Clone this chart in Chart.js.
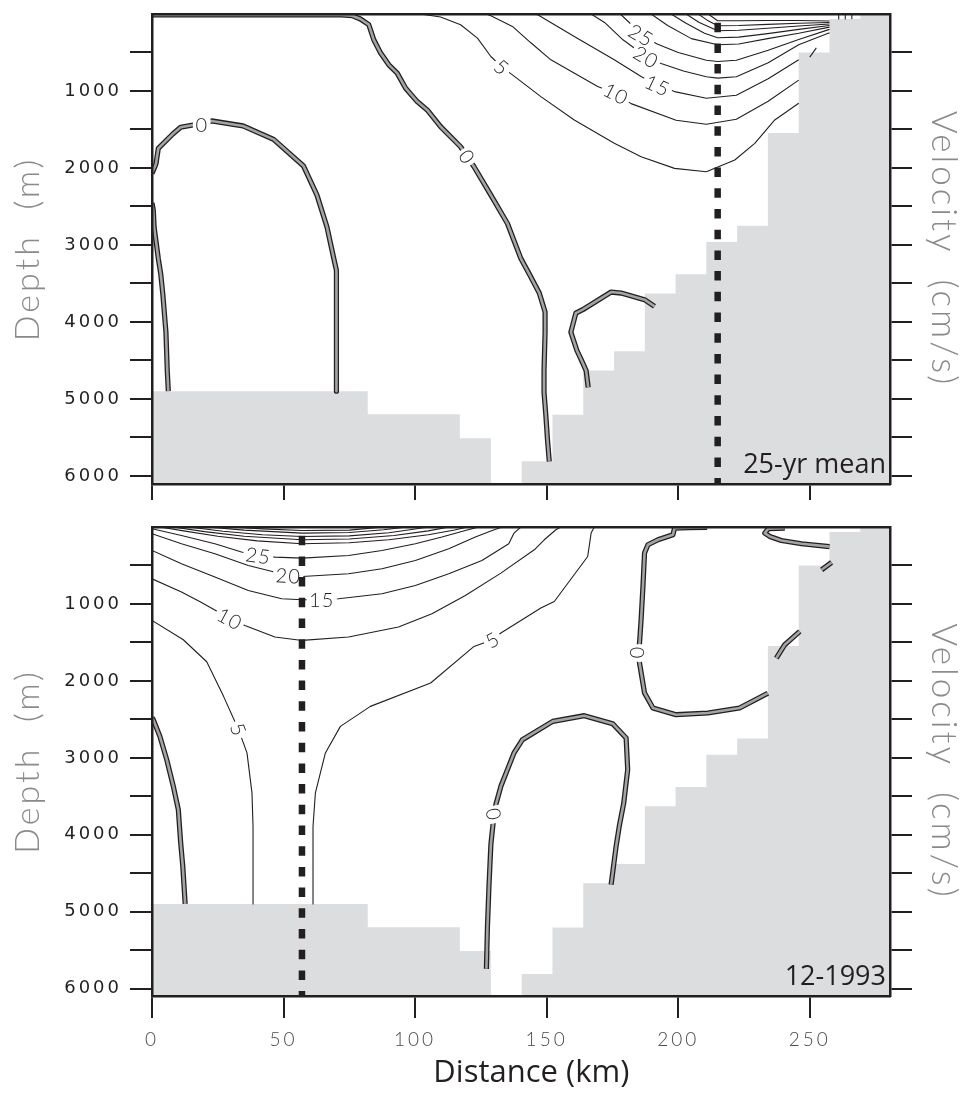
<!DOCTYPE html>
<html>
<head>
<meta charset="utf-8">
<script src="https://cdn.jsdelivr.net/npm/chart.js@4.4.1/dist/chart.umd.min.js"></script>
<style>
  body { margin: 0; background: #fff; }
  #wrap { position: relative; width: 964px; height: 1094px; }
  canvas { position: absolute; left: 0; }
  #topChart { top: 0; }
  #bottomChart { top: 510px; }
</style>
</head>
<body>
<div id="wrap">
  <canvas id="topChart" width="964" height="510"></canvas>
  <canvas id="bottomChart" width="964" height="584"></canvas>
</div>
<script>
// axes
const distTicks = [0, 50, 100, 150, 200, 250];
const depthTicks = [500, 1000, 1500, 2000, 2500, 3000, 3500, 4000, 4500, 5000, 5500, 6000];
const X_MAX = 280.5;

// bottom topography (left edge of each cell, km / depth of sea floor, m)
const bathyKm = [0, 82, 117, 128.8, 140.5, 152.2, 163.9, 175.6, 187.3, 199, 210.7, 222.4, 234.1, 245.8, 257.5, 269.2, 280.5];
const bathyDepth = [4900, 5200, 5510, 6200, 5810, 5205, 4630, 4380, 3630, 3380, 2960, 2750, 1545, 500, 65, 15, 15];

// ---- 25-yr mean: [km, depth] ----
const top0West = [[0,2070],[1.5,1949],[2.4,1745],[7.9,1559],[10.9,1471],[15.1,1445],[18.9,1432],[22.7,1389],[34.6,1454],[46.2,1628],[57.6,1975],[62.7,2353],[66.5,2766],[69.1,3177],[70.1,3330],[70.1,4900]];
const top0Edge = [[0,2453],[0.5,2548],[0.8,2766],[2.4,3177],[3.3,3372],[4.1,3633],[4.7,3885],[5.3,4133],[5.8,4632],[6.2,4900]];
const top0Mid = [[0,12],[72,12],[76.1,22],[79.2,65],[82.4,139],[84.3,335],[86.9,508],[90,660],[93.2,768],[96.4,964],[100.8,1138],[104.6,1246],[109.7,1464],[117.3,1724],[119.8,1854],[122.4,1984],[128.8,2353],[135.1,2721],[140.2,3177],[143.3,3372],[147.2,3625],[149.4,3872],[149.4,4133],[149,4632],[149,4914],[149.7,5217],[150.3,5521],[151,5813]];
const top0Hook = [[165.8,4849],[165,4632],[163,4479],[161.5,4371],[159.2,4133],[161.1,3885],[163.7,3841],[174.5,3612],[178.3,3625],[187.2,3711],[191,3798]];

const top5 = [[102,0],[109.7,39],[117.3,139],[123.7,313],[128.8,552],[133,690],[137,790],[147.8,1073],[160.5,1376],[175.7,1680],[185.9,1854],[198.6,2005],[210.7,2049],[221.5,1897],[229.1,1680],[236.7,1376],[245.8,1159]];
const top10 = [[127,0],[128.8,22],[137,161],[144,374],[151.6,595],[169.4,943],[176.4,1035],[182.1,1164],[199.2,1380],[210.7,1432],[222.1,1367],[234.2,1133],[245.8,859]];
const top15 = [[143,0],[146.6,9],[160.5,292],[175.7,595],[185.9,813],[192.2,925],[198.6,1008],[210.7,1094],[222.1,1055],[234.2,842],[245.8,595]];
const top20 = [[166.9,0],[172,110],[179,335],[187.8,556],[193.5,643],[202,740],[210.7,815],[215,833],[222.1,816],[234.2,634],[245.8,400],[257.5,243]];
const top25 = [[178,0],[182,130],[185.9,273],[192,390],[200,500],[210.7,600],[215,617],[222.1,600],[234.2,470],[245.8,330],[257.5,200]];
const top30 = [[189.7,0],[196,150],[205,320],[215,400],[223,390],[234,320],[245.8,250],[257.5,170]];
const top35 = [[197.3,0],[203,120],[210,250],[215,309],[223,300],[234,255],[245.8,200],[257.5,150]];
const top40 = [[203,0],[208,110],[215,217],[223,212],[234,185],[245.8,155],[257.5,130]];
const top45 = [[207.6,0],[211,80],[215,152],[223,150],[234,135],[245.8,120],[257.5,110]];
const top50 = [[211.4,0],[215,87],[223,88],[234,85],[245.8,85],[257.5,90]];
const topShelf1 = [[250,560],[252.5,440]];
const topShelf2 = [[261,0],[261,65]];
const topShelf3 = [[263.5,0],[263.5,65]];
const topShelf4 = [[266,0],[266,60]];

// contour label: text, km, depth, angle (deg)
const topLabels = [['0',18.9,1432,0],['0',119.8,1854,56],['5',133,690,40],['10',176.4,1035,27],['15',192.2,925,25],['20',187.8,556,30],['25',185.9,273,30]];

// ---- 12-1993 ----
const bot0Edge = [[0,2478],[0.5,2504],[3,2721],[5.6,3023],[8.1,3370],[10,3673],[10.9,4105],[11.7,4409],[12.6,4897]];
const bot0Loop = [[127.1,5742],[127.5,5188],[128.1,4647],[128.8,4127],[129.6,3866],[130,3736],[130.7,3606],[132.6,3370],[135.1,3153],[137.6,2936],[140.8,2764],[152.3,2526],[164.3,2452],[175.1,2556],[180.2,2741],[180.8,3153],[179.3,3586],[177.6,3890],[176.4,4149],[174.5,4647]];
const bot0East = [[211,6],[204,8],[198.6,14],[198,101],[192.3,166],[188.5,231],[187.2,339],[186.6,773],[185.9,1205],[185.3,1508],[184.6,1638],[185.3,1768],[187.2,2157],[190.4,2352],[199.2,2439],[211.3,2417],[223.3,2352],[234.1,2160]];
const bot0Shelf = [[240.5,14],[234.2,23],[232.9,79],[234.8,123],[239.2,175],[246.9,218],[257.5,255]];
const bot0BitA = [[254.5,556],[258.3,461]];
const bot0BitB = [[237.3,1703],[240.5,1530],[246.2,1357]];

const bot5West = [[0,1214],[11.9,1465],[20.8,1751],[27.2,2201],[32.9,2634],[36.1,2936],[38,3456],[38.4,3890],[38.4,4900]];
const bot5East = [[168.1,0],[166.9,79],[165.6,383],[152.9,968],[147.8,1053],[132.6,1378],[129.4,1465],[122.4,1552],[105.9,2027],[83,2331],[71.6,2591],[65.9,2936],[62.1,3456],[61.2,3890],[61.2,4900]];
const bot10 = [[0,673],[11.2,845],[18.3,971],[29.6,1190],[35.3,1279],[46.7,1430],[57.1,1474],[74.7,1430],[93.7,1300],[106.4,1127],[119.1,890],[132.6,599],[145.3,296],[149.1,166],[153.5,36],[155.4,0]];
const bot15 = [[0,305],[11.2,478],[23.9,651],[36.6,825],[49.3,933],[57.1,945],[64.5,945],[70.9,933],[87.4,867],[100.1,760],[112.8,608],[125.4,435],[135.6,218],[137.6,79],[140.2,0]];
const bot20 = [[0,88],[11.2,218],[23.9,348],[36.6,500],[51.8,630],[57.1,643],[74.7,608],[87.4,543],[100.1,435],[112.8,283],[122.9,131],[129.3,45],[133.1,0]];
const bot25 = [[0,23],[11.2,110],[23.9,218],[34,326],[40.4,370],[46.7,391],[57.1,404],[74.7,370],[87.4,305],[100.1,218],[110.2,131],[119.1,45],[124.2,0]];
const bot30 = [[3,0],[12,50],[25,120],[40,180],[57,218],[75,205],[90,165],[105,100],[115,40],[120,0]];
const bot35 = [[8,0],[20,60],[35,120],[57,166],[75,155],[92,110],[105,50],[113,0]];
const bot40 = [[14,0],[27,55],[42,100],[57,123],[75,115],[90,75],[100,25],[105,0]];
const bot45 = [[21,0],[35,40],[57,79],[75,72],[88,35],[97,0]];
const bot50 = [[30,0],[42,25],[57,45],[75,40],[88,0]];

const botLabels = [['25',40.4,370,8],['20',51.8,630,3],['15',64.5,945,0],['10',29.6,1190,28],['5',32.9,2634,70],['5',129.4,1465,-30],['0',184.6,1638,90],['0',130,3736,80]];

const INK = '#231f20';

// scale text is drawn wide like the original; datasets and labels are not
const spacing = {
    id: 'spacing',
    beforeDraw(chart) { chart.ctx.letterSpacing = '3px'; },
    beforeDatasetsDraw(chart) { chart.ctx.letterSpacing = '0px'; }
};

const contourLabels = {
    id: 'contourLabels',
    beforeDatasetDraw(chart, args, opts) {
        if (args.index !== 0) return; // just under the front line
        const ctx = chart.ctx;
        const x = chart.scales.x, y = chart.scales.y;
        ctx.save();
        ctx.font = '300 20px Lato';
        ctx.letterSpacing = '1px';
        ctx.textAlign = 'center';
        ctx.textBaseline = 'middle';
        opts.items.forEach(([txt, km, m, ang]) => {
            ctx.save();
            ctx.translate(x.getPixelForValue(km), y.getPixelForValue(m));
            ctx.rotate(ang * Math.PI / 180);
            const w = ctx.measureText(txt).width + 5;
            ctx.fillStyle = '#fff';
            ctx.fillRect(-w / 2, -9, w, 18);
            ctx.fillStyle = INK;
            ctx.fillText(txt, 0, 1);
            ctx.restore();
        });
        ctx.restore();
    },
    afterDraw(chart, args, opts) {
        const ctx = chart.ctx;
        const a = chart.chartArea;
        ctx.save();
        ctx.letterSpacing = '0px';
        ctx.font = '27px "Open Sans"';
        ctx.fillStyle = INK;
        ctx.textAlign = 'right';
        ctx.textBaseline = 'alphabetic';
        ctx.fillText(opts.tag, a.right - 4, a.bottom - 11);
        ctx.restore();
    }
};

function tickList(list) {
    return scale => { scale.ticks = list.map(v => ({ value: v })); };
}

function makeChart(id, cfg) {
    const datasets = [];
    datasets.push({
        data: [[cfg.front, 0], [cfg.front, 6200]],
        borderColor: INK, borderWidth: 6.5, borderDash: [9.5, 11.2], borderDashOffset: 12, order: 0
    });
    cfg.zeros.forEach(c => {
        datasets.push({ data: c, borderColor: '#a4a4a4', borderWidth: 2.6, order: 1 });
        datasets.push({ data: c, borderColor: INK, borderWidth: 5.2, order: 2 });
    });
    cfg.lines.forEach(c => {
        datasets.push({ data: c, borderColor: INK, borderWidth: 1.1, order: 3 });
    });
    datasets.push({
        data: bathyKm.map((k, i) => [k, bathyDepth[i]]),
        stepped: true,
        fill: { value: 6200 },
        backgroundColor: '#dcdddf',
        borderColor: 'rgba(0,0,0,0)',
        borderWidth: 0,
        order: 4
    });

    const yAxis = (pos, width, extra) => Object.assign({
        type: 'linear', position: pos, reverse: true, min: 0, max: cfg.yMax,
        afterBuildTicks: tickList(depthTicks),
        afterFit: s => { s.width = width; s.paddingTop = 0; s.paddingBottom = 0; },
        grid: { drawOnChartArea: false, color: INK, lineWidth: 2, tickLength: 22 },
        border: { color: INK, width: 2.5, z: 1 }
    }, extra);

    return new Chart(document.getElementById(id), {
        type: 'line',
        data: { datasets: datasets },
        options: {
            responsive: false,
            animation: false,
            events: [],
            layout: { padding: { top: cfg.padTop, left: 0, right: 0, bottom: 0 } },
            elements: {
                point: { radius: 0 },
                line: { tension: 0, borderJoinStyle: 'round', borderCapStyle: 'butt' }
            },
            plugins: {
                legend: { display: false },
                tooltip: { enabled: false },
                contourLabels: { items: cfg.labels, tag: cfg.tag }
            },
            scales: {
                x: {
                    type: 'linear', position: 'bottom', min: 0, max: X_MAX,
                    afterBuildTicks: tickList(distTicks),
                    afterFit: s => { s.height = cfg.xHeight; s.paddingLeft = 0; s.paddingRight = 0; },
                    grid: { drawOnChartArea: false, color: INK, lineWidth: 2, tickLength: cfg.xTick, z: 1 },
                    border: { color: INK, width: 2.5, z: 1 },
                    ticks: {
                        display: cfg.showX, padding: 10, maxRotation: 0, autoSkip: false,
                        color: '#4a4a4a', font: { family: 'Lato', size: 19, weight: 300 }
                    },
                    title: {
                        display: cfg.showX, text: '\u2002\u2009Distance (km)', color: INK,
                        font: { family: 'Open Sans', size: 31 }, padding: { top: 0, bottom: 2 }
                    }
                },
                xTop: {
                    type: 'linear', position: 'top', min: 0, max: X_MAX,
                    afterFit: s => { s.height = 0; s.paddingLeft = 0; s.paddingRight = 0; },
                    grid: { display: false },
                    border: { color: INK, width: 2.5, z: 1 },
                    ticks: { display: false }
                },
                y: yAxis('left', 152, {
                    ticks: {
                        padding: 8, color: INK, font: { family: 'DejaVu Sans', size: 18 },
                        callback: v => (v % 1000 === 0 ? String(v) : '')
                    },
                    title: {
                        display: true, text: 'Depth  (m)', color: '#8a8a8a',
                        font: { family: 'Lato', size: 34, weight: 300 }, padding: { top: 8, bottom: 0 }
                    }
                }),
                yRight: yAxis('right', 74, {
                    ticks: { display: false },
                    title: {
                        display: true, text: 'Velocity  (cm/s)', color: '#8a8a8a',
                        font: { family: 'Lato', size: 35, weight: 300 }, padding: { top: 0, bottom: 0 }
                    }
                })
            }
        },
        plugins: [spacing, contourLabels]
    });
}

makeChart('topChart', {
    yMax: 6105, padTop: 14, xHeight: 26, xTick: 16, showX: false,
    front: 215, tag: '25-yr mean', labels: topLabels,
    zeros: [top0West, top0Edge, top0Mid, top0Hook],
    lines: [top5, top10, top15, top20, top25, top30, top35, top40, top45, top50, topShelf1, topShelf2, topShelf3, topShelf4]
});

makeChart('bottomChart', {
    yMax: 6095, padTop: 17, xHeight: 98, xTick: 22, showX: true,
    front: 57, tag: '12-1993', labels: botLabels,
    zeros: [bot0Edge, bot0Loop, bot0East, bot0Shelf, bot0BitA, bot0BitB],
    lines: [bot5West, bot5East, bot10, bot15, bot20, bot25, bot30, bot35, bot40, bot45, bot50]
});
</script>
</body>
</html>
